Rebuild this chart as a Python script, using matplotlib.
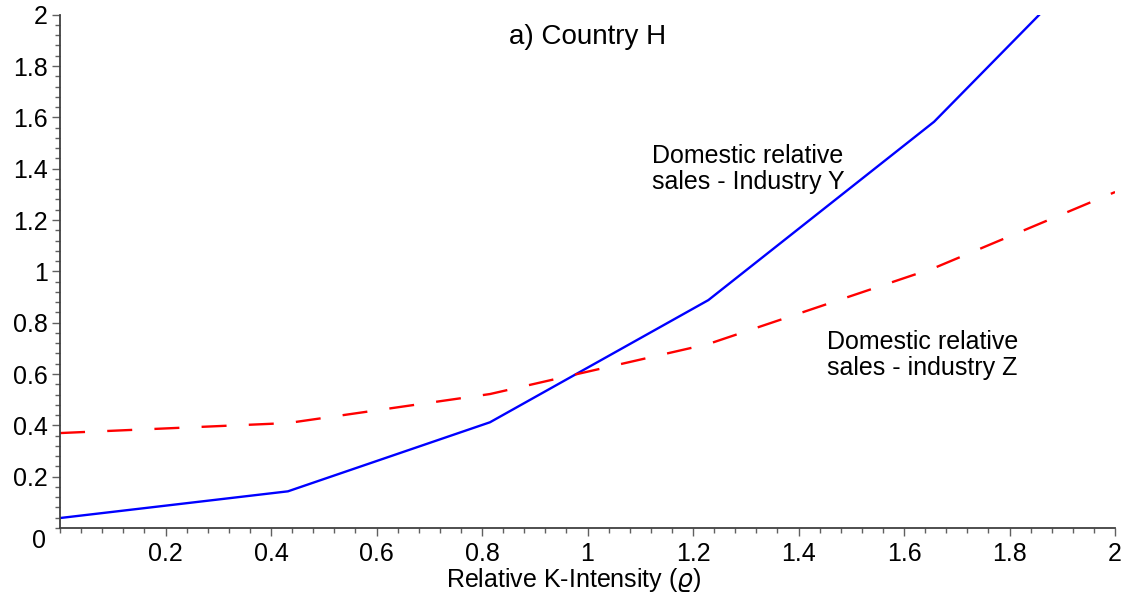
"""
Country H: domestic relative sales of industries Y and Z against relative K-intensity.
"""
import numpy as np
import matplotlib.pyplot as plt
from matplotlib.ticker import MultipleLocator, FixedLocator

plt.rcParams['font.family'] = ['Liberation Sans', 'DejaVu Sans']
plt.rcParams['lines.scale_dashes'] = False

# relative K-intensity grid and the two sales curves
rho = [0.0, 0.432, 0.815, 1.229, 1.657, 2.0]
sales_y = [0.039, 0.143, 0.412, 0.888, 1.583, 2.30]
sales_z = [0.370, 0.409, 0.522, 0.717, 1.013, 1.309]

x_ticks = [0.2, 0.4, 0.6, 0.8, 1.0, 1.2, 1.4, 1.6, 1.8, 2.0]
y_ticks = [0.2, 0.4, 0.6, 0.8, 1.0, 1.2, 1.4, 1.6, 1.8, 2.0]
tick_fmt = lambda v: f'{v:g}'

fig = plt.figure(figsize=(11.31, 6.07), dpi=100)
ax = fig.add_axes([0.0531, 0.1301, 0.9328, 0.8457])

ax.plot(rho, sales_y, color='#0000ff', lw=1.7, solid_joinstyle='miter')
ax.plot(rho, sales_z, color='#ff0000', lw=1.7, dashes=(18, 16))

ax.set_xlim(0, 2)
ax.set_ylim(0, 2)

for s in ('top', 'right'):
    ax.spines[s].set_visible(False)
for s in ('left', 'bottom'):
    ax.spines[s].set_color('#404040')
    ax.spines[s].set_linewidth(1.3)

ax.xaxis.set_major_locator(FixedLocator(x_ticks))
ax.yaxis.set_major_locator(FixedLocator(y_ticks))
ax.set_xticklabels([tick_fmt(v) for v in x_ticks])
ax.set_yticklabels([tick_fmt(v) for v in y_ticks])
ax.xaxis.set_minor_locator(MultipleLocator(0.04))
ax.yaxis.set_minor_locator(MultipleLocator(0.04))
ax.tick_params(which='major', length=6, width=1, color='#606060',
               labelsize=18, pad=3)
ax.tick_params(which='minor', length=3.5, width=1, color='#606060')
ax.tick_params(axis='x', which='major', pad=4)

# origin label sits below-left of the corner
ax.annotate('0', xy=(0, 0), xytext=(-15, -9), textcoords='offset points',
            ha='center', va='center', fontsize=18)

ax.set_xlabel(r'Relative K-Intensity ($\varrho$)', fontsize=18)
ax.xaxis.label.set_va('center')
ax.xaxis.set_label_coords(0.487, -0.102)

ax.text(0.5, 0.9566, 'a) Country H', transform=ax.transAxes,
        ha='center', va='center', fontsize=20)
ax.text(1.122, 1.398, 'Domestic relative\nsales - Industry Y',
        ha='left', va='center', fontsize=18, linespacing=1.12)
ax.text(1.453, 0.674, 'Domestic relative\nsales - industry Z',
        ha='left', va='center', fontsize=18, linespacing=1.12)

fig.savefig('out.png', dpi=100)
